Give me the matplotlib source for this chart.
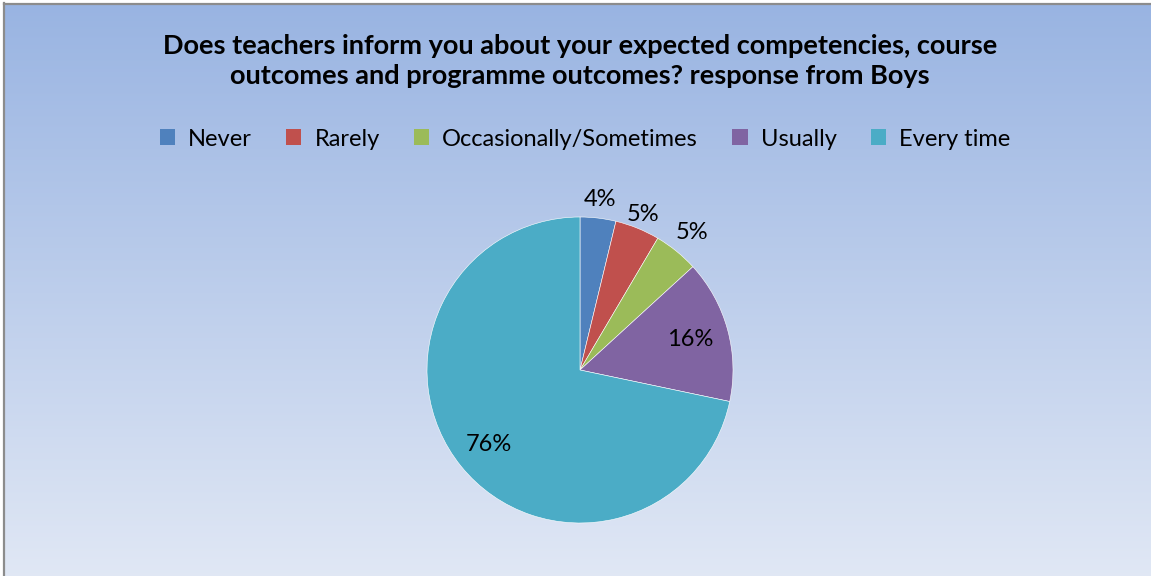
import numpy as np
import matplotlib.pyplot as plt
from matplotlib.colors import LinearSegmentedColormap
from matplotlib.patches import Patch

# survey responses (counts, shown with a % sign as in the source)
categories = ['Never', 'Rarely', 'Occasionally/Sometimes', 'Usually', 'Every time']
values = [4, 5, 5, 16, 76]
colors = ['#4F81BD', '#C0504D', '#9BBB59', '#8064A2', '#4BACC6']
title = ('Does teachers inform you about your expected competencies, course\n'
         'outcomes and programme outcomes? response from Boys')

W, H = 1151, 576
plt.rcParams['font.family'] = ['Lato', 'DejaVu Sans']
fig = plt.figure(figsize=(W / 100, H / 100), dpi=100, facecolor='white')

# gradient background with grey frame at top/left
bg = fig.add_axes([4 / W, -0.01, 1.02 - 4 / W, 1.01 - 4 / H])
grad = LinearSegmentedColormap.from_list('bg', ['#E1E8F5', '#99B4E2'])
bg.imshow(np.linspace(0, 1, 256).reshape(-1, 1), aspect='auto', cmap=grad,
          origin='lower', extent=[0, 1, 0, 1])
bg.set_axis_off()
fig.add_artist(plt.Line2D([3.5 / W, 3.5 / W], [0, 1 - 3 / H], color='#8C8C8C', lw=1.6))
fig.add_artist(plt.Line2D([3.5 / W, 1], [1 - 3.5 / H, 1 - 3.5 / H], color='#8C8C8C', lw=1.6))

fig.text(580 / W, 1 - 61 / H, title, ha='center', va='center', fontsize=19.5,
         fontweight='bold', linespacing=1.3)

# pie
cx, cy, r = 580, 370, 153
ax = fig.add_axes([(cx - r) / W, (H - cy - r) / H, 2 * r / W, 2 * r / H])
wedges, _ = ax.pie(values, colors=colors, startangle=90, counterclock=False,
                   wedgeprops=dict(edgecolor='white', linewidth=0.4))
ax.set_xlim(-1, 1)
ax.set_ylim(-1, 1)
ax.set_aspect('equal')

dist = [1.12, 1.10, 1.16, 0.75, 0.77]
for w, v, d in zip(wedges, values, dist):
    ang = np.deg2rad((w.theta1 + w.theta2) / 2)
    ax.text(d * np.cos(ang), d * np.sin(ang), f'{v}%', ha='center', va='center',
            fontsize=17, color='black', clip_on=False)

handles = [Patch(facecolor=c, edgecolor='none') for c in colors]
fig.legend(handles, categories, loc='center', bbox_to_anchor=(585 / W, 1 - 139 / H),
           ncol=5, frameon=False, fontsize=17, handlelength=0.65, handleheight=0.65,
           handletextpad=0.55, columnspacing=1.45)

fig.savefig('out.png', dpi=100, facecolor='white')
